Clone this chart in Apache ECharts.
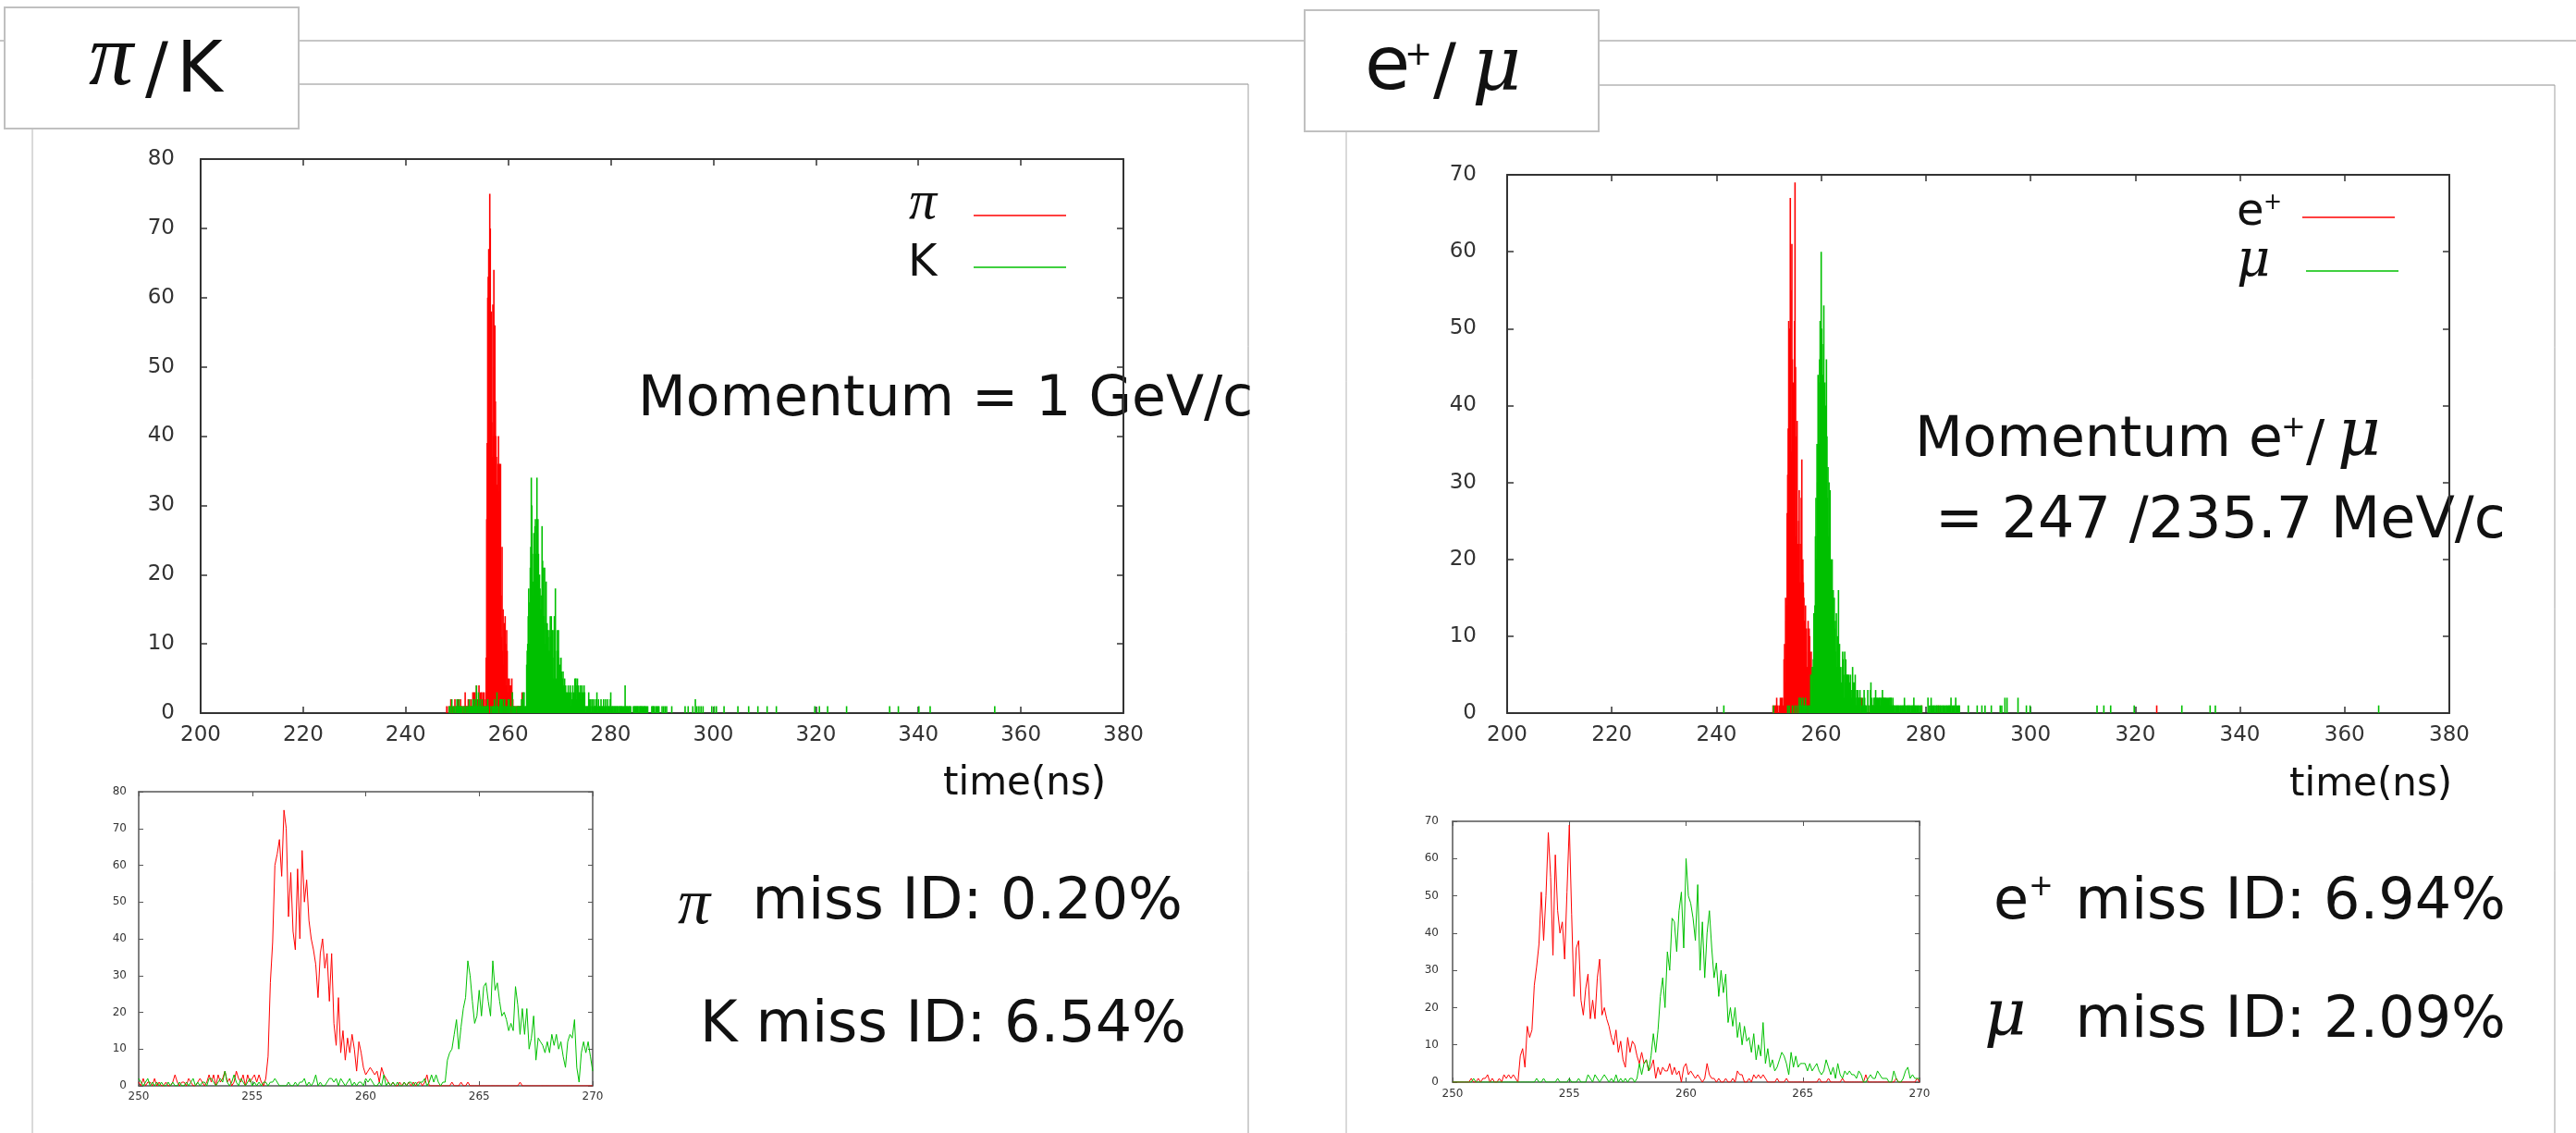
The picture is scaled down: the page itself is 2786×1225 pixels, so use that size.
<!DOCTYPE html>
<html><head><meta charset="utf-8">
<script src="https://cdn.jsdelivr.net/npm/echarts@6/dist/echarts.min.js"></script>
<style>html,body{margin:0;padding:0;background:#fff}#c{width:2786px;height:1225px}</style>
</head><body><div id="c"></div>
<script>
// ---------- DATA (histogram counts, 0.1 ns bins) ----------
const BIN = 0.1;
// left panel : pi / K
const piStart = 248.0;
const piCounts = [
1,0,0,0,1,0,0,0,2,0, 0,0,1,0,0,0,2,0,0,1,
1,0,2,0,1,1,0,2,0,1, 0,0,1,0,0,1,3,1,0,1, 1,0,2,1,0,0,1,2,1,0, 1,3,1,3,0,3,1,2,4,1, 2,0,1,4,2,1,3,0,3,1,
2,3,1,3,1,0,2,8,28,39, 60,63,67,57,75,70,46,58,42,37, 59,40,64,50,56,45,40,37,33,24, 36,40,32,36,23,36,17,11,24,9, 15,7,13,9,14,10,4,12,9,5,
3,4,5,4,3,4,1,5,3,2, 1,0,1,0,0,1,0,1,0,1, 0,1,0,1,1,0,1,3,0,0, 0,0,0,0,0,0,0,0,1,0, 0,0,1,0,0,1,0,0,0,0,
0,0,0,0,0,0,0,0,0,0, 0,0,0,0,0,0,0,0,1,0, 0,0,0,0,0,0,0,0,0,0, 0,0,0,0,0,0,0,0,0,0, 0,0,0,0,0,0,0,0,0,0, 0];
const piHits = [[270.6,1]];
const kStart = 248.0;
const kCounts = [
0,0,0,0,0,1,0,1,0,0, 2,0,0,1,0,1,0,0,1,0,
2,1,0,1,2,0,1,0,1,0, 1,0,0,1,0,1,0,0,1,0, 0,1,0,1,2,0,1,0,1,1, 0,2,2,1,0,1,2,1,4,1, 0,1,3,1,0,2,1,0,1,2,
0,1,0,1,0,1,1,0,1,1, 2,1,0,0,0,0,1,0,0,1, 0,1,1,2,0,1,0,1,3,0, 1,0,0,1,2,2,1,2,0,2, 1,0,1,2,0,1,0,1,1,0,
2,1,2,1,0,0,1,0,3,0, 1,0,1,0,1,0,0,1,0,1, 1,0,1,0,1,1,2,0,1,3, 1,3,1,0,1,1,7,9,10,14, 18,10,16,21,24,34,30,23,17,19,
26,19,27,28,23,19,34,26,28,23, 19,20,18,15,17,15,27,22,14,21, 14,21,10,13,19,7,13,12,11,9, 12,9,14,11,14,10,12,8,5,12, 14,13,18,5,1,9,12,9,12,8,
4,7,5,8,6,3,5,6,4,3, 5,2,4,3,1,3,2,4,2,3, 2,4,1,3,2,1,4,2,3,1, 5,3,5,2,4,5,3,4,2,3, 3,4,2,3,4,1,3,2,4,3,
1,0,1,1,0,1,1,3,1,2, 1,2,0,1,2,1,0,2,1,1, 1,2,1,3,1,0,2,1,1,0, 1,2,1,0,1,1,2,1,0,1, 2,1,1,0,2,1,1,0,1,2,
3,1,0,1,1,0,1,1,0,1, 1,0,1,1,0,1,0,1,1,0, 1,1,0,1,0,1,0,1,4,1, 0,1,1,0,1,0,1,1,0,1, 0,0,0,0,1,0,1,1,0,1,
1,0,1,1,0,1,0,1,1,0, 1,1,0,1,0,1,1,0,1,0, 1,0,1,0,0,0,0,0,0,0, 1,0,1,1,0,1,0,0,1,0, 1,0,1,0,1,0,0,0,0,0,
1,0,0,1,0,0,1,0,0,1, 0,0,0,0,0,0,0,0,0,1, 0];
const kHits = [[294.5,1],[295.1,1],[296.0,1],[296.5,2],[296.8,1],[297.2,1],[297.6,1],[298.0,1],[299.7,1],[300.2,1],[300.6,1],
[302.1,1],[304.8,1],[306.9,1],[308.7,1],[310.5,1],[312.3,1],[319.8,1],[320.7,1],[322.3,1],[326.0,1],[334.4,1],[336.1,1],
[340.1,1],[342.3,1],[354.9,1]];
// right panel : e+ / mu
const epStart = 250.0;
const epCounts = [
0,0,0,0,0,0,0,0,1,0, 0,1,0,1,1,2,0,1,0,0, 1,0,2,1,2,1,2,1,0,7, 9,4,15,12,14,26,31,37,51,38, 50,67,55,34,61,46,40,43,33,51,
69,45,23,36,38,22,18,25,29,17, 22,17,28,33,18,20,17,15,12,10, 14,8,11,6,4,12,8,11,10,7, 5,8,5,6,3,4,6,1,4,2, 4,3,3,5,2,4,2,3,0,4,
5,2,3,2,1,2,1,0,1,5, 2,1,1,0,1,0,0,1,0,0, 1,0,3,2,2,0,0,1,0,2, 1,2,1,2,1,0,0,0,0,1, 0,0,0,1,0,0,0,0,0,0,
0,0,0,0,0,0,0,1,0,0, 0,1,0,0,0,0,0,1,0,0, 0,0,0,0,0,0,0,2,0,0, 0,0,0,0,0,0,0,0,0,0, 1,0,0,0,0,0,0,0,0,1, 0];
const epHits = [[271.9,2],[279.2,1],[282.4,1],[324.1,1]];
const muStart = 250.0;
const muCounts = [
0,0,0,0,0,0,0,0,0,1, 0,0,0,0,0,0,0,0,0,0, 0,0,0,0,0,0,0,0,0,0, 0,0,0,0,0,0,1,0,0,1, 0,0,0,0,0,1,0,0,0,0,
1,0,0,0,1,0,0,0,2,1, 0,2,1,0,1,2,1,0,1,0, 2,0,1,0,1,0,1,1,0,1, 5,2,5,6,3,7,13,8,14,23, 28,20,35,30,44,43,35,46,51,36,
60,50,48,44,38,53,30,43,28,40, 46,36,28,32,23,30,24,29,16,20, 15,20,12,16,10,15,11,12,8,13, 6,10,7,16,5,9,4,6,3,4, 6,8,7,5,2,8,4,7,4,5,
5,5,3,5,3,4,5,3,2,3, 6,4,2,4,1,5,2,1,3,2, 3,2,2,1,3,2,0,0,1,2, 1,1,3,2,1,1,1,0,0,3, 1,0,0,1,3,4,1,2,1,1,
1,2,1,2,3,1,2,2,1,2, 1,2,2,1,2,1,2,3,2,1, 2,1,2,2,1,2,1,2,1,2, 1,2,1,2,2,1,1,2,1,1, 1,0,1,1,0,1,1,0,1,1,
0,1,1,0,1,1,0,1,1,2, 1,1,0,1,1,0,1,1,0,1, 1,0,1,1,0,1,1,2,1,0, 1,1,0,1,0,1,1,0,1,0, 1,0,1,0,0,0,0,0,0,0,
0,0,0,0,2,0,0,1,0,1, 2,1,0,1,0,1,1,0,1,0, 1,1,0,1,0,1,0,1,1,0, 1,0,1,1,0,1,0,1,0,1, 1,0,1,0,1,1,0,1,2,0,
1,0,1,0,1,1,0,2,0,1, 0,1,0,1,1,0,0,0,0,0, 0,0,0,0,0,0,0,0,0,0, 0,1,0,0,0,0,0,0,0,0, 0,0,0,0,0,0,0,0,1,0,
0,0,0,0,0,0,0,1,0,0, 0,0,0,1,0,0,0,0,0,0, 0];
const muHits = [[241.4,1],[292.5,1],[294.2,1],[294.5,1],[295.1,2],[295.5,2],[297.6,2],[299.2,1],[299.9,1],[312.7,1],
[314.0,1],[315.3,1],[319.8,1],[328.9,1],[334.3,1],[335.3,1],[366.5,1]];
// axis ticks
const mainXTicks = {min:200, max:380, step:20};
const insetXTicks = {min:250, max:270, step:5};
const leftYMax = 80, rightYMax = 70;

// ---------- helpers ----------
function toPairs(start, counts, hits){
  const out = counts.map((v,i)=>[Math.round((start+i*BIN)*10)/10, v]);
  return out.concat(hits).sort((a,b)=>a[0]-b[0]);
}
const nonZero = p => p.filter(d=>d[1]>0);
const inRange = (p,a,b) => p.filter(d=>d[0]>=a-1e-9 && d[0]<=b+1e-9);
const pi = toPairs(piStart, piCounts, piHits);
const kk = toPairs(kStart, kCounts, kHits);
const ep = toPairs(epStart, epCounts, epHits);
const mu = toPairs(muStart, muCounts, muHits);

const RED = '#ff0000', GREEN = '#00c000';
const SANS = 'DejaVu Sans', SERIF = 'DejaVu Serif', LSERIF = 'Liberation Serif';

const grids = [
  {left:217, top:172, width:998, height:599},   // left main
  {left:150, top:856, width:491, height:318},   // left inset
  {left:1630, top:189, width:1019, height:582}, // right main
  {left:1571, top:888, width:505, height:282}   // right inset
];
const xAxes = [], yAxes = [];
function addAxes(g, xt, ymax, st){
  const common = {gridIndex:g, type:'value', splitLine:{show:false},
    axisLine:{show:true, onZero:false, lineStyle:{color:st.line, width:st.lw}},
    axisTick:{show:true, inside:true, length:st.tick, lineStyle:{color:st.line, width:st.tw}}};
  const lab = {fontFamily:SANS, fontSize:st.fs, color:'#333'};
  xAxes.push(Object.assign({}, common, {position:'bottom', min:xt.min, max:xt.max, interval:xt.step,
    axisLabel:Object.assign({margin:st.xm}, lab)}));
  xAxes.push(Object.assign({}, common, {position:'top', min:xt.min, max:xt.max, interval:xt.step, axisLabel:{show:false}}));
  yAxes.push(Object.assign({}, common, {position:'left', min:0, max:ymax, interval:10,
    axisLabel:Object.assign({margin:st.ym}, lab)}));
  yAxes.push(Object.assign({}, common, {position:'right', min:0, max:ymax, interval:10, axisLabel:{show:false}}));
}
const mainSt = {line:'#333', lw:2, tick:7, tw:1.5, fs:23, xm:13, ym:28};
const insetSt = {line:'#555', lw:1.5, tick:5, tw:1, fs:12, xm:6, ym:13};
addAxes(0, mainXTicks, leftYMax, mainSt);
addAxes(1, insetXTicks, leftYMax, insetSt);
addAxes(2, mainXTicks, rightYMax, Object.assign({}, mainSt, {ym:33}));
addAxes(3, insetXTicks, rightYMax, Object.assign({}, insetSt, {ym:15, xm:7}));

function barS(g, data, color){
  return {type:'bar', xAxisIndex:2*g, yAxisIndex:2*g, data:nonZero(data), barWidth:1.6, barGap:'-100%',
    itemStyle:{color:color}, silent:true, animation:false};
}
function lineS(g, data, color){
  return {type:'line', xAxisIndex:2*g, yAxisIndex:2*g, data:inRange(data, 250, 270), showSymbol:false,
    lineStyle:{color:color, width:1}, itemStyle:{color:color}, silent:true, animation:false};
}
const series = [
  barS(0, pi, RED), barS(0, kk, GREEN),
  lineS(1, pi, RED), lineS(1, kk, GREEN),
  barS(2, ep, RED), barS(2, mu, GREEN),
  lineS(3, ep, RED), lineS(3, mu, GREEN)
];

// ---------- decorations ----------
function L(x1,y1,x2,y2,c,w){return {type:'line', silent:true, shape:{x1,y1,x2,y2}, style:{stroke:c, lineWidth:w}};}
function T(x,y,text,size,opt){
  opt = opt||{};
  return {type:'text', x, y, silent:true, style:{text, fontSize:size, fontFamily:opt.ff||SANS,
    fontStyle:opt.it?'italic':'normal', fill:opt.fill||'#111', align:opt.align||'left', verticalAlign:'middle'}};
}
const graphic = [
  L(0,44,2786,44,'#c6c6c6',2),
  L(323,91,1350,91,'#c6c6c6',2), L(35,139,35,1225,'#b4b4b4',1), L(1350,91,1350,1225,'#a0a0a0',1),
  L(1729,92,2763,92,'#c6c6c6',2), L(1456,142,1456,1225,'#b4b4b4',1), L(2763,92,2763,1225,'#a0a0a0',1),
  {type:'rect', shape:{x:5,y:8,width:318,height:131}, style:{fill:'#fff', stroke:'#c0c0c0', lineWidth:2}},
  {type:'rect', shape:{x:1411,y:11,width:318,height:131}, style:{fill:'#fff', stroke:'#c0c0c0', lineWidth:2}},
  // titles
  T(96,66,'π',96,{ff:LSERIF,it:true}), T(157,80,'/',74), T(191,79,'K',76),
  T(1476,75,'e',80), T(1519,61,'+',36), T(1550,81,'/',74), T(1592,76,'μ',82,{ff:SERIF,it:true}),
  // legends
  T(983,220,'π',60,{ff:LSERIF,it:true}), T(982,286,'K',48),
  L(1053,233,1153,233,RED,1.5), L(1053,289,1153,289,GREEN,1.5),
  T(2419,231,'e',48), T(2448,220,'+',24), T(2419,283,'μ',56,{ff:SERIF,it:true}),
  L(2490,235,2590,235,RED,1.5), L(2494,293,2594,293,GREEN,1.5),
  // axis titles
  T(1020,848,'time(ns)',42), T(2476,849,'time(ns)',42),
  // annotations
  T(690,433,'Momentum = 1 GeV/c',60),
  T(2071,477,'Momentum e',60), T(2467,464,'+',32), T(2494,481,'/',60), T(2528,473,'μ',72,{ff:SERIF,it:true}),
  T(2093,565,'= 247 /235.7 MeV/c',62),
  T(733,980,'π',70,{ff:LSERIF,it:true}), T(1279,977,'miss ID: 0.20%',62,{align:'right'}),
  T(1283,1110,'K miss ID: 6.54%',62,{align:'right'}),
  T(2156,977,'e',62), T(2194,960,'+',32), T(2710,977,'miss ID: 6.94%',62,{align:'right'}),
  T(2146,1101,'μ',70,{ff:SERIF,it:true}), T(2710,1105,'miss ID: 2.09%',62,{align:'right'})
];

const chart = echarts.init(document.getElementById('c'), null, {renderer:'canvas'});
chart.setOption({
  backgroundColor:'#fff', animation:false,
  grid:grids, xAxis:xAxes, yAxis:yAxes, series:series, graphic:graphic
});
</script></body></html>
